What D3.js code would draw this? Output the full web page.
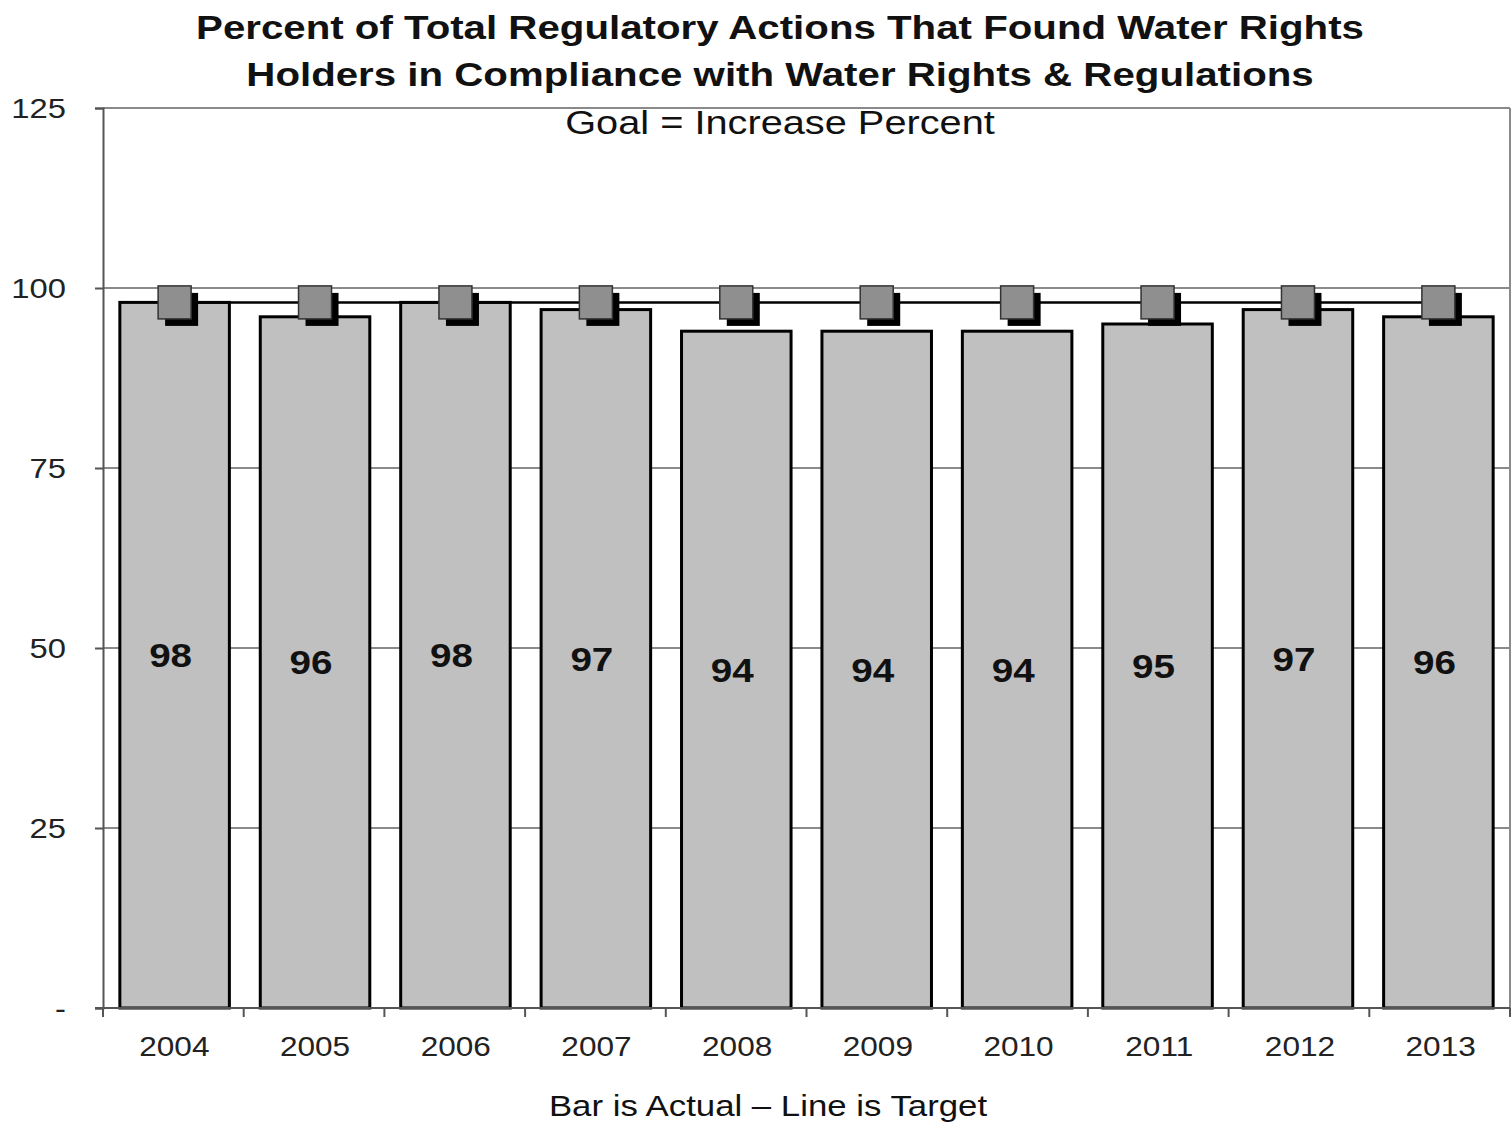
<!DOCTYPE html>
<html><head><meta charset="utf-8">
<script src="https://cdn.jsdelivr.net/npm/d3@7"></script>
<style>body{margin:0;background:#fff}svg{display:block}text{font-family:"Liberation Sans",Arial,sans-serif}</style>
</head><body><svg id="c" width="1512" height="1126"></svg>
<script>
const years = ["2004","2005","2006","2007","2008","2009","2010","2011","2012","2013"];
const actual = [98,96,98,97,94,94,94,95,97,96];
const target = [98,98,98,98,98,98,98,98,98,98];
const yTicks = [0,25,50,75,100,125];
const yTickLabels = ["-","25","50","75","100","125"];

const svg = d3.select("#c");
const L=103, R=1510, T=108, B=1008;
const SX=1.17;
const x = d3.scaleBand().domain(years).range([L,R]).paddingInner(0.22).paddingOuter(0.12);
const xb = d3.scaleBand().domain(years).range([L,R]);
const y = d3.scaleLinear().domain([0,125]).range([B,T]);

// gridlines
svg.append("g").selectAll("line").data(yTicks.filter(d=>d>0)).join("line")
  .attr("x1",L).attr("x2",R).attr("y1",d=>y(d)).attr("y2",d=>y(d))
  .attr("stroke","#8a8a8a").attr("stroke-width",2);
svg.append("line").attr("x1",R).attr("x2",R).attr("y1",T).attr("y2",B).attr("stroke","#8a8a8a").attr("stroke-width",2);

// bars
svg.append("g").selectAll("rect").data(actual).join("rect")
  .attr("x",(d,i)=>x(years[i])).attr("width",x.bandwidth())
  .attr("y",d=>y(d)).attr("height",d=>B-y(d))
  .attr("fill","#c0c0c0").attr("stroke","#000").attr("stroke-width",3);

// stretched text helper
function stext(g, tx, ty, str, size, weight, anchor, sx){
  return g.append("text").attr("transform",`translate(${tx},${ty}) scale(${sx||SX},1)`)
    .attr("text-anchor",anchor||"middle").attr("font-size",size).attr("font-weight",weight||"normal")
    .attr("fill","#111").text(str);
}

// y axis
const yAxis = d3.axisLeft(y).tickValues(yTicks).tickSize(8).tickFormat("");
const ga = svg.append("g").attr("transform",`translate(${L},0)`).call(yAxis);
ga.select(".domain").attr("stroke","#555").attr("stroke-width",2);
ga.selectAll(".tick line").attr("stroke","#555").attr("stroke-width",2);
const gyl = svg.append("g");
yTicks.forEach((v,i)=>stext(gyl,66,y(v)+10,yTickLabels[i],28,"normal","end").attr("fill","#222"));

// x axis
const gx = svg.append("g").attr("transform",`translate(0,${B})`).call(d3.axisBottom(xb).tickSize(0).tickFormat(""));
gx.select(".domain").attr("stroke","#555").attr("stroke-width",2).attr("d",`M${L-8},0H${R}`);
svg.append("g").selectAll("line").data(d3.range(years.length+1)).join("line")
  .attr("x1",i=>L+i*xb.step()).attr("x2",i=>L+i*xb.step())
  .attr("y1",B).attr("y2",B+9).attr("stroke","#555").attr("stroke-width",2);
const gxl = svg.append("g");
years.forEach(yr=>stext(gxl,xb(yr)+xb.bandwidth()/2+1,1056,yr,27).attr("fill","#222"));

// target line
const cx = i => x(years[i]) + x.bandwidth()/2;
svg.append("path").datum(target)
  .attr("d",d3.line().x((d,i)=>cx(i)).y(d=>y(d)))
  .attr("fill","none").attr("stroke","#000").attr("stroke-width",2.5);
const s=33, off=7;
const mk = svg.append("g").selectAll("g").data(target).join("g");
mk.append("rect").attr("x",(d,i)=>cx(i)-s/2+off).attr("y",d=>y(d)-s/2+off).attr("width",s).attr("height",s).attr("fill","#000");
mk.append("rect").attr("x",(d,i)=>cx(i)-s/2).attr("y",d=>y(d)-s/2).attr("width",s).attr("height",s)
  .attr("fill","#8f8f8f").attr("stroke","#333").attr("stroke-width",1.5);

// bar labels
const gbl = svg.append("g");
actual.forEach((v,i)=>stext(gbl,cx(i)-4,(y(v)+B)/2+12,v,33,"bold"));

// titles
const gt = svg.append("g");
stext(gt,780,39,"Percent of Total Regulatory Actions That Found Water Rights",34,"bold","middle",1.184);
stext(gt,780,86,"Holders in Compliance with Water Rights & Regulations",34,"bold","middle",1.184);
stext(gt,780,134,"Goal = Increase Percent",33,"normal","middle",1.205);
stext(gt,768,1116,"Bar is Actual – Line is Target",30,"normal","middle",1.16);
</script></body></html>
